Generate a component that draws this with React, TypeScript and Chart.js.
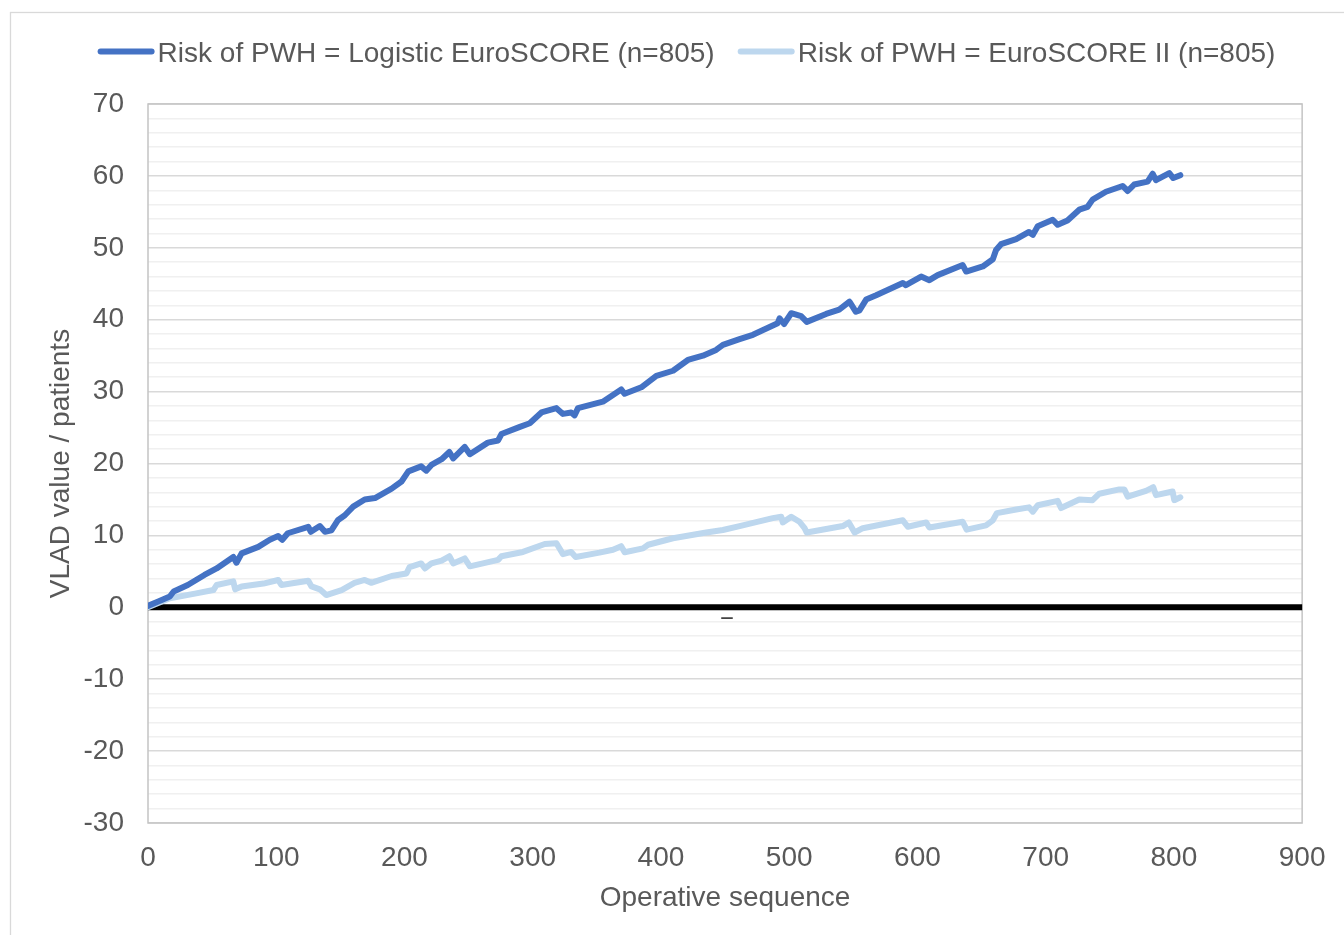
import { useEffect, useRef } from "react";
import { Chart, registerables } from "chart.js";

Chart.register(...registerables);

const seriesLabels = [
  "Risk of PWH = Logistic EuroSCORE (n=805)",
  "Risk of PWH = EuroSCORE II (n=805)",
];
const seriesColors = ["#4472C4", "#BDD7EE"];

const logisticX = [
  0, 8, 17, 20, 31, 44, 53.5, 60, 66.5, 69, 73, 86, 95, 101.5, 104.7, 109, 125, 127, 134, 138,
  143, 148, 153.5, 160, 169, 177, 190, 197.7, 203, 213, 217, 221, 229, 235, 238, 247, 251, 265,
  273, 275.6, 290, 297.7, 306.8, 318.5, 323.6, 330, 332.7, 335.3, 354.7, 369, 371.7, 384.7,
  396.4, 409.4, 421, 432.7, 443, 448.3, 461.3, 471.7, 491, 492.5, 496, 501.6, 509.3, 513.7,
  528.8, 539, 547, 552, 554.8, 560, 567.8, 588.6, 591, 602.9, 609.3, 615.8, 635.3, 638, 651,
  658.8, 661.3, 665.2, 677, 687, 690, 693.8, 705.5, 709.4, 717, 726.2, 732.7, 736.6, 747, 760,
  764, 769, 779.5, 783.4, 786, 796.4, 799.5, 805,
];
const logisticY = [
  0.2, 0.8, 1.5, 2.2, 3.1, 4.5, 5.4, 6.2, 7.0, 6.2, 7.5, 8.4, 9.4, 9.9, 9.4, 10.3, 11.2, 10.5,
  11.3, 10.5, 10.7, 12.1, 12.8, 14.0, 15.0, 15.2, 16.5, 17.5, 18.9, 19.6, 19.0, 19.8, 20.6,
  21.6, 20.7, 22.3, 21.3, 22.9, 23.2, 24.1, 25.1, 25.6, 27.1, 27.7, 26.9, 27.1, 26.7, 27.7,
  28.6, 30.3, 29.7, 30.6, 32.2, 32.9, 34.4, 35.0, 35.8, 36.5, 37.3, 37.9, 39.5, 40.2, 39.4,
  40.9, 40.5, 39.7, 40.8, 41.4, 42.5, 41.1, 41.3, 42.8, 43.4, 45.1, 44.8, 46.0, 45.5, 46.2,
  47.6, 46.7, 47.4, 48.4, 49.7, 50.5, 51.2, 52.2, 51.8, 53.0, 53.9, 53.2, 53.8, 55.3, 55.7,
  56.7, 57.8, 58.6, 57.9, 58.8, 59.2, 60.3, 59.4, 60.4, 59.7, 60.1,
];

const euro2X = [
  0, 17, 36.6, 51, 53.5, 66.5, 68, 73, 90, 101.5, 104, 125, 127.5, 134, 139, 151, 161, 169,
  174, 190, 201.5, 204, 213, 216, 221, 229, 235, 238, 247, 251, 273, 275.6, 292.4, 309.4,
  318.5, 323.6, 330, 333.5, 352, 362.6, 369, 371.7, 386, 390, 409.4, 435.3, 448.3, 461.3,
  487.2, 493.8, 495, 501.6, 508, 512, 513.7, 541.8, 546.5, 551, 557.4, 588.6, 592.5, 606.8,
  609.3, 635.3, 638.4, 653.5, 658.8, 662, 677, 687, 690, 693.8, 709.4, 712, 726.2, 736.6,
  741.8, 757.4, 761.3, 764, 778.2, 783.9, 786, 799, 800.3, 805,
];
const euro2Y = [
  0, 1.25, 1.9, 2.4, 3.1, 3.6, 2.5, 2.9, 3.3, 3.8, 3.1, 3.7, 2.9, 2.5, 1.7, 2.4, 3.4, 3.8,
  3.4, 4.35, 4.7, 5.6, 6.1, 5.4, 6.1, 6.5, 7.1, 6.1, 6.8, 5.7, 6.6, 7.1, 7.7, 8.8, 8.9, 7.4,
  7.7, 7.0, 7.6, 8.0, 8.5, 7.65, 8.2, 8.7, 9.6, 10.4, 10.75, 11.3, 12.4, 12.6, 11.8, 12.6,
  11.9, 11.0, 10.4, 11.3, 11.8, 10.4, 11.0, 12.1, 11.2, 11.8, 11.1, 11.9, 10.8, 11.4, 12.1,
  13.1, 13.6, 13.9, 13.3, 14.2, 14.8, 13.8, 15.0, 14.9, 15.8, 16.4, 16.4, 15.4, 16.2, 16.7,
  15.6, 16.1, 14.9, 15.3,
];

const xMin = 0;
const xMax = 900;
const xStep = 100;
const yMin = -30;
const yMax = 70;
const yMinorStep = 2;
const yMajorStep = 10;

// small stray dash seen below the zero line (data units)
const dashX = [447, 456];
const dashY = -1.5;

const FONT = "'Liberation Sans', Arial, sans-serif";
const TEXT = "#595959";

export default function App() {
  const ref = useRef<HTMLCanvasElement>(null);

  useEffect(() => {
    if (!ref.current) return;

    const framePlugin = {
      id: "frame",
      beforeDraw(chart: any) {
        const { ctx, width, height } = chart;
        ctx.save();
        ctx.fillStyle = "#ffffff";
        ctx.fillRect(0, 0, width, height);
        ctx.strokeStyle = "#d9d9d9";
        ctx.lineWidth = 1.3;
        ctx.strokeRect(10.5, 12.5, width + 40, height + 40);
        ctx.restore();
      },
    };

    const areaBorderPlugin = {
      id: "areaBorder",
      beforeDatasetsDraw(chart: any) {
        const { ctx, chartArea } = chart;
        ctx.save();
        ctx.strokeStyle = "#c4c4c4";
        ctx.lineWidth = 1.5;
        ctx.strokeRect(
          chartArea.left,
          chartArea.top,
          chartArea.right - chartArea.left,
          chartArea.bottom - chartArea.top
        );
        const y0 = chart.scales.y.getPixelForValue(0);
        ctx.strokeStyle = "#000000";
        ctx.lineWidth = 6;
        ctx.beginPath();
        ctx.moveTo(chartArea.left, y0);
        ctx.lineTo(chartArea.right, y0);
        ctx.stroke();
        ctx.restore();
      },
      afterDatasetsDraw(chart: any) {
        const { ctx } = chart;
        const xs = chart.scales.x;
        const ys = chart.scales.y;
        ctx.save();
        ctx.strokeStyle = "#000000";
        ctx.lineWidth = 1.3;
        ctx.beginPath();
        ctx.moveTo(xs.getPixelForValue(dashX[0]), ys.getPixelForValue(dashY));
        ctx.lineTo(xs.getPixelForValue(dashX[1]), ys.getPixelForValue(dashY));
        ctx.stroke();
        ctx.restore();
      },
    };

    const legendPlugin = {
      id: "customLegend",
      afterDraw(chart: any) {
        const { ctx } = chart;
        const ds = chart.data.datasets;
        ctx.save();
        ctx.font = `28px ${FONT}`;
        const lineLen = 57;
        const gap = 3;
        const itemGap = 23;
        const widths = ds.map((d: any) => lineLen + gap + ctx.measureText(d.label).width);
        const total =
          widths.reduce((a: number, b: number) => a + b, 0) + itemGap * (ds.length - 1);
        const centerX = 686.5;
        let x = centerX - total / 2;
        const lineY = 51.5;
        const textY = 61.5;
        ds.forEach((d: any, i: number) => {
          ctx.strokeStyle = d.borderColor;
          ctx.lineWidth = 6;
          ctx.lineCap = "round";
          ctx.beginPath();
          ctx.moveTo(x + 3, lineY);
          ctx.lineTo(x + lineLen - 3, lineY);
          ctx.stroke();
          ctx.fillStyle = TEXT;
          ctx.textAlign = "left";
          ctx.textBaseline = "alphabetic";
          ctx.fillText(d.label, x + lineLen + gap, textY);
          x += widths[i] + itemGap;
        });
        ctx.restore();
      },
    };

    const makeData = (xs: number[], ys: number[]) => xs.map((x, i) => ({ x, y: ys[i] }));

    const chart = new Chart(ref.current, {
      type: "line",
      data: {
        datasets: [
          {
            label: seriesLabels[0],
            data: makeData(logisticX, logisticY),
            borderColor: seriesColors[0],
            backgroundColor: seriesColors[0],
            borderWidth: 6,
            pointRadius: 0,
            tension: 0,
            borderCapStyle: "round",
            borderJoinStyle: "round",
            order: 1,
          },
          {
            label: seriesLabels[1],
            data: makeData(euro2X, euro2Y),
            borderColor: seriesColors[1],
            backgroundColor: seriesColors[1],
            borderWidth: 6,
            pointRadius: 0,
            tension: 0,
            borderCapStyle: "round",
            borderJoinStyle: "round",
            order: 2,
          },
        ],
      },
      options: {
        animation: false,
        responsive: true,
        maintainAspectRatio: false,
        events: [],
        layout: { padding: { left: 10, right: 41, top: 104, bottom: 0 } },
        plugins: {
          legend: { display: false },
          tooltip: { enabled: false },
          title: { display: false },
        },
        scales: {
          x: {
            type: "linear",
            min: xMin,
            max: xMax,
            border: { display: false },
            grid: { display: false, drawTicks: false },
            ticks: {
              stepSize: xStep,
              padding: 18.5,
              color: TEXT,
              font: { family: FONT, size: 28 },
              maxRotation: 0,
              autoSkip: false,
            },
            title: {
              display: true,
              text: "Operative sequence",
              color: TEXT,
              font: { family: FONT, size: 28 },
              padding: { top: 0, bottom: 19.5 },
            },
            afterFit(scale: any) {
              scale.height = 112;
            },
          },
          y: {
            type: "linear",
            min: yMin,
            max: yMax,
            border: { display: false },
            grid: {
              drawTicks: false,
              color: (c: any) =>
                c.tick && c.tick.value % yMajorStep === 0 ? "#d9d9d9" : "#f0f0f0",
              lineWidth: 1.5,
            },
            ticks: {
              stepSize: yMinorStep,
              autoSkip: false,
              padding: 24,
              color: TEXT,
              font: { family: FONT, size: 28 },
              callback: (v: any) => (Number(v) % yMajorStep === 0 ? String(v) : ""),
            },
            title: {
              display: true,
              text: "VLAD value / patients",
              color: TEXT,
              font: { family: FONT, size: 28 },
              padding: { top: 34, bottom: 0 },
            },
            afterFit(scale: any) {
              scale.width = 138;
            },
          },
        },
      },
      plugins: [framePlugin, areaBorderPlugin, legendPlugin],
    });

    return () => chart.destroy();
  }, []);

  return (
    <div style={{ position: "absolute", left: 0, top: 0, width: 1344, height: 935 }}>
      <canvas ref={ref} />
    </div>
  );
}
